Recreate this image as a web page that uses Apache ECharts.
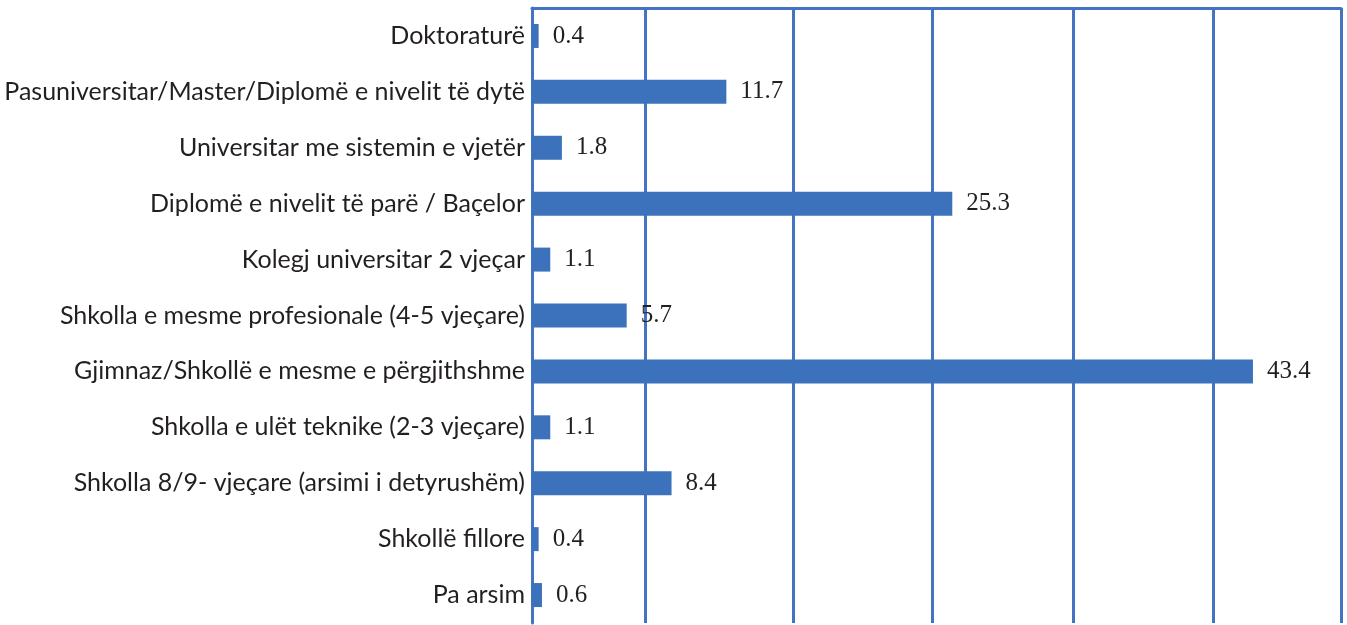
<!DOCTYPE html>
<html>
<head>
<meta charset="utf-8">
<script src="https://cdn.jsdelivr.net/npm/echarts@6/dist/echarts.min.js"></script>
<style>
html,body{margin:0;padding:0;background:#fff;}
#chart{width:1347px;height:625px;}
</style>
</head>
<body>
<div id="chart"></div>
<script>
const categories = [
  "Doktoraturë",
  "Pasuniversitar/Master/Diplomë e nivelit të dytë",
  "Universitar me sistemin e vjetër",
  "Diplomë e nivelit të parë / Baçelor",
  "Kolegj universitar 2 vjeçar",
  "Shkolla e mesme profesionale (4-5 vjeçare)",
  "Gjimnaz/Shkollë e mesme e përgjithshme",
  "Shkolla e ulët teknike (2-3 vjeçare)",
  "Shkolla 8/9- vjeçare (arsimi i detyrushëm)",
  "Shkollë fillore",
  "Pa arsim"
];
const values = [0.4, 11.7, 1.8, 25.3, 1.1, 5.7, 43.4, 1.1, 8.4, 0.4, 0.6];
const axisMax = 48.7;
const gridValues = [0, 6.8, 15.7, 24.1, 32.6, 41.0, 48.7];

const lineColor = '#4473C3';
const barColor = '#3C72BB';
const textColor = '#231F20';

const chart = echarts.init(document.getElementById('chart'), null, {renderer: 'canvas'});
chart.setOption({
  animation: false,
  backgroundColor: '#ffffff',
  grid: {left: 532, right: 6, top: 8, bottom: 2, containLabel: false},
  xAxis: [
    {
      type: 'value', min: 0, max: axisMax, position: 'bottom',
      axisLine: {show: false},
      axisTick: {show: false, customValues: gridValues},
      axisLabel: {show: false, customValues: gridValues},
      splitLine: {show: true, lineStyle: {color: lineColor, width: 3}}
    },
    {
      type: 'value', min: 0, max: axisMax, position: 'top',
      axisLine: {show: true, lineStyle: {color: lineColor, width: 3}},
      axisTick: {show: false},
      axisLabel: {show: false},
      splitLine: {show: false}
    }
  ],
  yAxis: {
    type: 'category', data: categories, inverse: true,
    axisLine: {show: true, lineStyle: {color: lineColor, width: 3}},
    axisTick: {show: false},
    axisLabel: {
      color: textColor, fontFamily: 'Lato', fontSize: 25, margin: 7
    },
    splitLine: {show: false}
  },
  series: [{
    type: 'bar', data: values, barWidth: 24, xAxisIndex: 0,
    itemStyle: {color: barColor},
    label: {
      show: true, position: 'right', distance: 14,
      color: textColor, fontFamily: 'Liberation Serif', fontSize: 25
    }
  }]
});
</script>
</body>
</html>
